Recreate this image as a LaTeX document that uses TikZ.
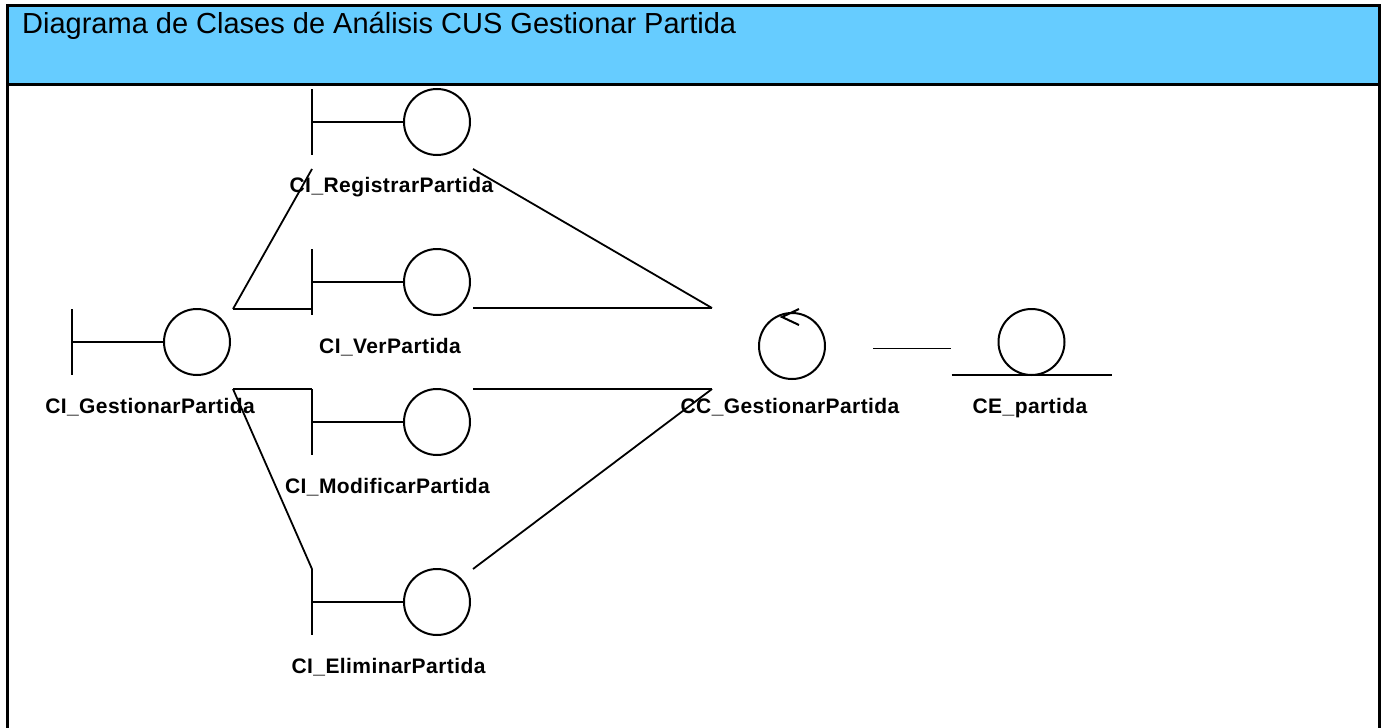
\documentclass[tikz,border=0pt]{standalone}
\usepackage{fontspec}
\setmainfont{Liberation Sans}
\usetikzlibrary{calc}
\definecolor{headblue}{HTML}{66CCFF}

% boundary class: bar, stem and circle; #1 name, (#2,#3) circle centre
\newcommand\boundaryclass[3]{%
  \node[ball] (#1) at (#2,#3) {};
  \node[area] (#1-box) at ($(#2,#3)+(-44.5,7)$) {};
  \draw[glyph] ($(#1.center)+(-125,-33)$) -- ++(0,66);
  \draw[glyph] ($(#1.center)+(-125,0)$) -- (#1.west);
}

\begin{document}
\begin{tikzpicture}[x=1pt,y=-1pt,
  frameline/.style={line width=3pt},
  glyph/.style={line width=2pt},
  link/.style={line width=1.8pt},
  ball/.style={circle, draw, line width=2pt, minimum size=66pt, inner sep=0pt, outer sep=0pt},
  area/.style={inner sep=0pt, outer sep=0pt, minimum width=161pt, minimum height=80pt},
  lbl/.style={anchor=base, font=\fontsize{21}{24}\selectfont\bfseries\addfontfeature{LetterSpace=2}},
]
\useasboundingbox (0,0) rectangle (1385,728);

% frame and title band
\fill[headblue] (7,5.5) rectangle (1379,84);
\draw[frameline] (7,740) -- (7,5.5) -- (1379,5.5) -- (1379,740);
\draw[frameline] (7,84) -- (1379,84);
\node[anchor=base west, inner sep=0pt, font=\fontsize{29}{34}\selectfont] (title) at (22,33)
  {Diagrama de Clases de Análisis CUS Gestionar Partida};

% boundary classes
\boundaryclass{gest}{197}{342}
\boundaryclass{reg}{437}{122}
\boundaryclass{ver}{437}{282}
\boundaryclass{mod}{437}{422}
\boundaryclass{eli}{437}{602}

% control class
\node[ball] (ctl) at (792,346) {};
\node[area, minimum height=81pt] (ctl-box) at (792.5,348.5) {};
\draw[glyph] ($(ctl.north)+(7,-4)$) -- ($(ctl.north)+(-10,4)$) -- ($(ctl.north)+(7,12)$);

% entity class
\node[ball] (ent) at (1031.5,342) {};
\node[area] (ent-box) at (1031.5,348.5) {};
\draw[glyph] ($(ent.south)+(-80,0)$) -- ($(ent.south)+(80,0)$);

% class names
\node[lbl] (gest-l) at (150,413) {CI\_GestionarPartida};
\node[lbl] (reg-l) at (391.5,192) {CI\_RegistrarPartida};
\node[lbl] (ver-l) at (390,353) {CI\_VerPartida};
\node[lbl] (mod-l) at (387.5,493) {CI\_ModificarPartida};
\node[lbl] (eli-l) at (388.5,673) {CI\_EliminarPartida};
\node[lbl] (ctl-l) at (790,413) {CC\_GestionarPartida};
\node[lbl] (ent-l) at (1030,413) {CE\_partida};

% associations
\draw[link] (gest-box.north east) -- (reg-box.south west);
\draw[link] (gest-box.north east) -- (gest-box.north east -| ver-box.west);
\draw[link] (gest-box.south east) -- (mod-box.north west);
\draw[link] (gest-box.south east) -- (eli-box.north west);
\draw[link] (reg-box.south east) -- (ctl-box.north west);
\draw[link] (ver-box.east |- ctl-box.north) -- (ctl-box.north west);
\draw[link] (mod-box.north east) -- (ctl-box.south west);
\draw[link] (eli-box.north east) -- (ctl-box.south west);
\draw[link] (ctl-box.east) -- (ent-box.west);
\end{tikzpicture}
\end{document}
